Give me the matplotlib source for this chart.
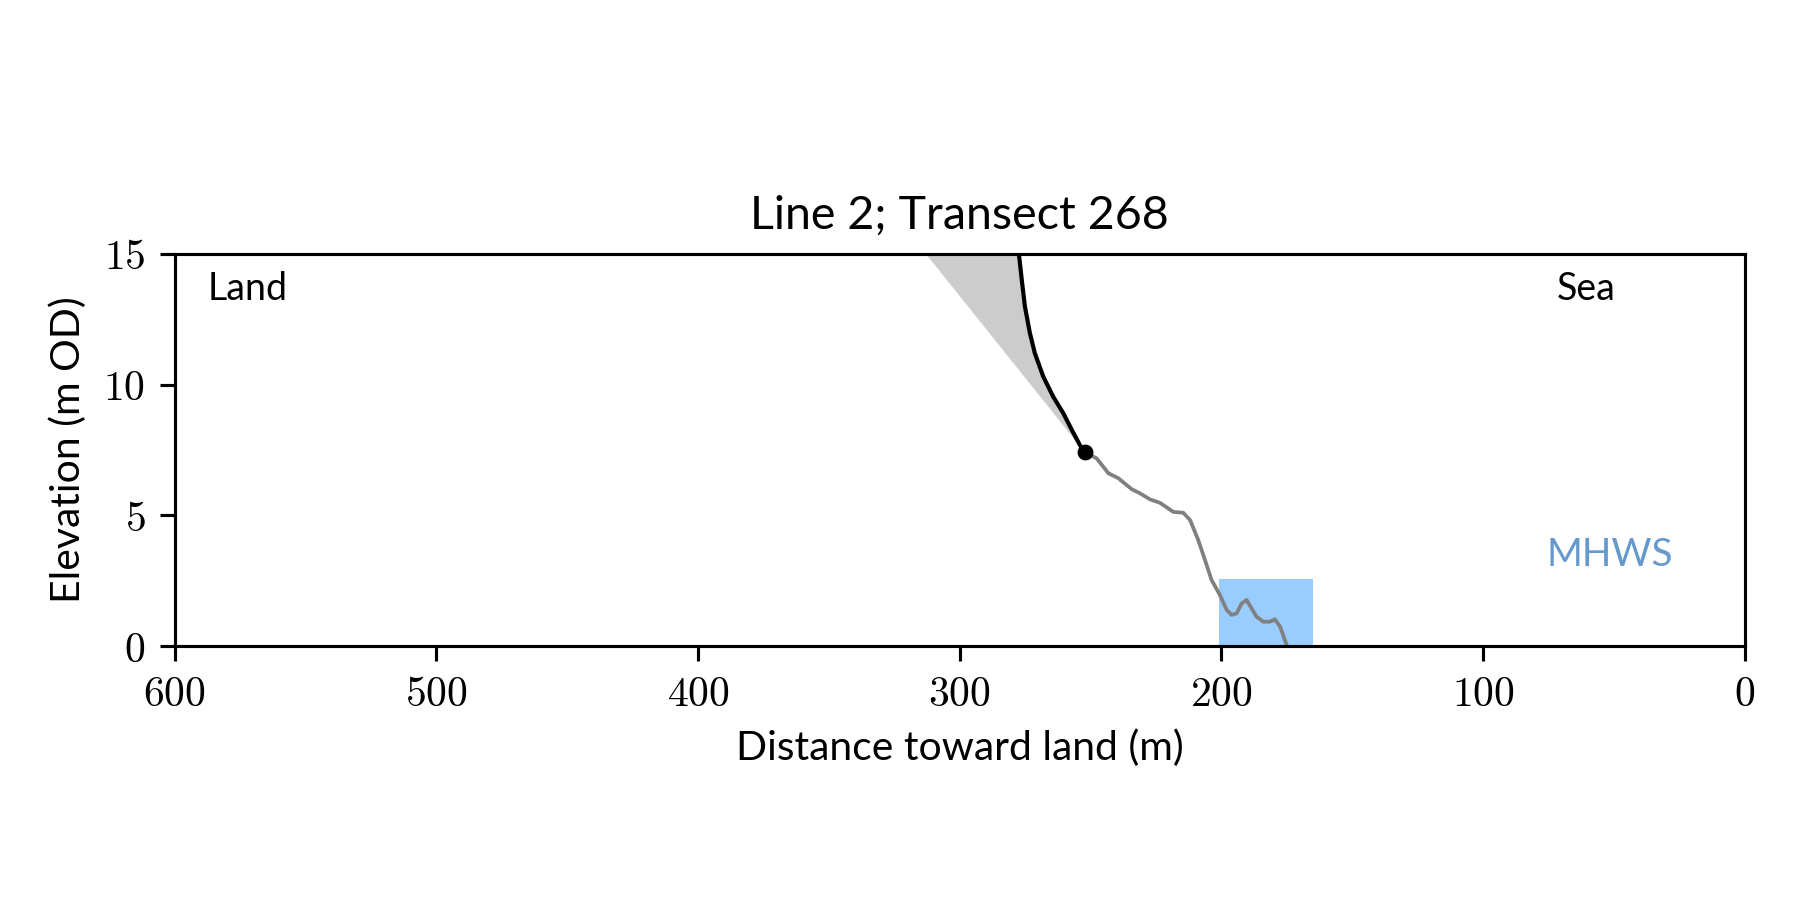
import numpy as np
import matplotlib
matplotlib.use("Agg")
import matplotlib.pyplot as plt
from matplotlib.ticker import FuncFormatter

plt.rcParams['font.family'] = ['Lato', 'DejaVu Sans']
plt.rcParams['mathtext.fontset'] = 'cm'

# cliff face (black), distance toward land (m) / elevation (m OD)
cliff_x = [277.4, 276.3, 275.1, 273.2, 271.3, 268.1, 264.3, 260.4, 257.2, 254.1, 252.2]
cliff_y = [15.0, 14.0, 12.99, 11.97, 11.2, 10.31, 9.54, 8.9, 8.27, 7.69, 7.41]

# cliff top projection for the shaded wedge
proj_x = 312.9
proj_y = 15.0

# lower profile (grey)
prof_x = [252.2, 247.7, 243.2, 239.4, 234.3, 231.1, 227.3, 223.5, 218.4, 214.6, 212.0,
          208.9, 206.3, 203.8, 200.6, 198.0, 196.1, 194.2, 192.3, 190.4, 188.5, 186.6,
          184.0, 181.5, 179.6, 177.6, 175.1]
prof_y = [7.41, 7.18, 6.61, 6.42, 6.0, 5.84, 5.61, 5.48, 5.13, 5.10, 4.82,
          4.06, 3.29, 2.53, 1.95, 1.38, 1.19, 1.25, 1.63, 1.76, 1.44, 1.12,
          0.93, 0.93, 1.02, 0.74, 0.04]

# MHWS box
mhws_x = [200.8, 165.1]
mhws = 2.55

fig = plt.figure(figsize=(6, 3), dpi=300)
ax = fig.add_axes([0.097, 0.2822, 0.8724, 0.4356])

ax.fill_between(mhws_x, 0, mhws, color='#99ccff', lw=0, zorder=1)
ax.fill(list(cliff_x) + [proj_x], list(cliff_y) + [proj_y], color='#cccccc', lw=0, zorder=1)
ax.plot(prof_x, prof_y, color='gray', lw=0.9, zorder=2)
ax.plot(cliff_x, cliff_y, color='black', lw=1.0, zorder=3)
ax.plot(cliff_x[-1], cliff_y[-1], 'o', color='black', ms=2.8, zorder=4)

ax.set_xlim(600, 0)
ax.set_ylim(0, 15)
ax.set_xticks([600, 500, 400, 300, 200, 100, 0])
ax.set_yticks([0, 5, 10, 15])
fmt = FuncFormatter(lambda v, p: r'$%d$' % v)
ax.xaxis.set_major_formatter(fmt)
ax.yaxis.set_major_formatter(fmt)
ax.tick_params(labelsize=10, width=0.75, length=3.5)
for s in ax.spines.values():
    s.set_linewidth(0.75)

ax.set_xlabel('Distance toward land (m)', fontsize=9.8)
ax.set_ylabel('Elevation (m OD)', fontsize=9.8)
ax.set_title('Line 2; Transect 268', fontsize=11.2)

ax.text(0.021, 0.91, 'Land', transform=ax.transAxes, fontsize=9, ha='left', va='center')
ax.text(0.899, 0.91, 'Sea', transform=ax.transAxes, fontsize=9, ha='center', va='center')
ax.text(51.6, 3.5, 'MHWS', color='#6699cc', fontsize=9.3, ha='center', va='center')

fig.savefig('out.png', dpi=300)
